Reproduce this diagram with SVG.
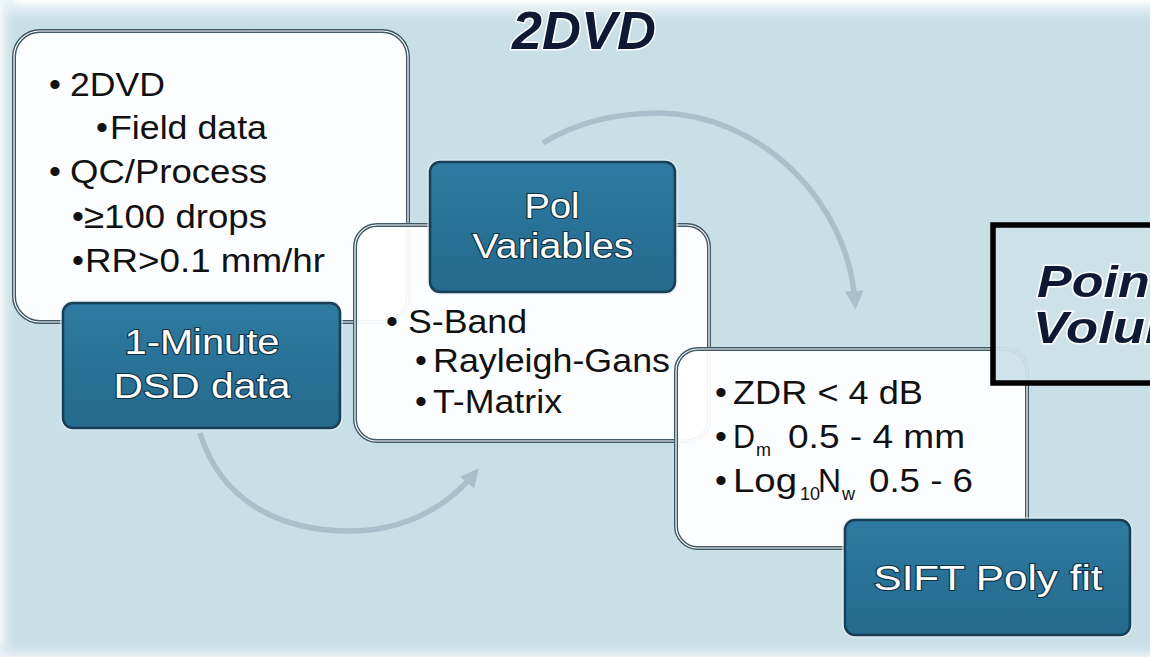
<svg xmlns="http://www.w3.org/2000/svg" width="1150" height="657" viewBox="0 0 1150 657">
<defs>
<linearGradient id="topg" x1="0" y1="0" x2="0" y2="1"><stop offset="0" stop-color="#ffffff"/><stop offset="1" stop-color="#c9dfe8" stop-opacity="0"/></linearGradient>
<linearGradient id="leftg" x1="0" y1="0" x2="1" y2="0"><stop offset="0" stop-color="#f4f8fa"/><stop offset="1" stop-color="#c9dfe8" stop-opacity="0"/></linearGradient>
<linearGradient id="botg" x1="0" y1="0" x2="0" y2="1"><stop offset="0" stop-color="#c9dfe8" stop-opacity="0"/><stop offset="1" stop-color="#eaf2f6"/></linearGradient>
<linearGradient id="blue" x1="0" y1="0" x2="0" y2="1"><stop offset="0" stop-color="#2e7aa0"/><stop offset="1" stop-color="#246a8d"/></linearGradient>
<marker id="ah" viewBox="0 0 10 10" refX="6" refY="5" markerWidth="3.4" markerHeight="3.4" orient="auto" markerUnits="strokeWidth">
<path d="M0,0 L10,5 L0,10 z" fill="#a9bfcb"/>
</marker>
</defs>
<style>
.wbox{fill:#ffffff;fill-opacity:0.94;stroke:#3f5866;stroke-width:4}
.wline{fill:none;stroke:#ffffff;stroke-width:1.2}
.bbox{fill:url(#blue);stroke:#173f55;stroke-width:2.5}
.bedge{fill:none;stroke:#e6f0f4;stroke-width:1.2}
.t{font-family:"Liberation Sans",Arial,sans-serif;font-size:34px;fill:#111111}
.sub{font-family:"Liberation Sans",Arial,sans-serif;font-size:18px;fill:#111111}
.bt{font-family:"Liberation Sans",Arial,sans-serif;font-size:35px;fill:#ffffff;stroke:#123246;stroke-width:2.2;paint-order:stroke;text-anchor:middle}
.arc{fill:none;stroke:#a9bfcb;stroke-width:5.5;marker-end:url(#ah)}
.title{font-family:"Liberation Sans",Arial,sans-serif;font-weight:bold;font-style:italic;fill:#0e1a33;stroke:#ffffff;stroke-width:3;paint-order:stroke}
</style>
<rect x="0" y="0" width="1150" height="657" fill="#c9dfe8"/>
<rect x="0" y="0" width="1150" height="26" fill="url(#topg)"/>
<rect x="0" y="0" width="18" height="657" fill="url(#leftg)"/>
<rect x="0" y="640" width="1150" height="17" fill="url(#botg)"/>

<text class="title" x="512" y="49" font-size="53" textLength="144" lengthAdjust="spacingAndGlyphs">2DVD</text>

<g id="connectors">
<path class="arc" d="M200,433 C222,505 285,531 350,531 C405,531 448,506 474,474"/>
<path class="arc" d="M543,143 C580,120 620,113 660,113 C760,115 848,200 855,302"/>
</g>

<g id="box1">
<rect class="wbox" x="14" y="31" width="394" height="291" rx="26"/>
<rect class="wline" x="14" y="31" width="394" height="291" rx="26"/>
<text class="t" x="49" y="96">•</text>
<text class="t" x="70" y="96" textLength="95" lengthAdjust="spacingAndGlyphs">2DVD</text>
<text class="t" x="96" y="139">•</text>
<text class="t" x="110" y="139" textLength="157" lengthAdjust="spacingAndGlyphs">Field data</text>
<text class="t" x="49" y="183">•</text>
<text class="t" x="70" y="183" textLength="197" lengthAdjust="spacingAndGlyphs">QC/Process</text>
<text class="t" x="72" y="228">•</text>
<text class="t" x="84" y="228" textLength="183" lengthAdjust="spacingAndGlyphs">≥100 drops</text>
<text class="t" x="72" y="272">•</text>
<text class="t" x="85" y="272" textLength="240" lengthAdjust="spacingAndGlyphs">RR&gt;0.1 mm/hr</text>
</g>

<g id="dsd">
<rect class="bedge" x="61" y="301" width="281" height="129" rx="12"/>
<rect class="bbox" x="63" y="303" width="277" height="125" rx="10"/>
<text class="bt" x="202" y="354" textLength="155" lengthAdjust="spacingAndGlyphs">1-Minute</text>
<text class="bt" x="202" y="398" textLength="177" lengthAdjust="spacingAndGlyphs">DSD data</text>
</g>

<g id="box2">
<rect class="wbox" x="355" y="225" width="354" height="216" rx="22"/>
<rect class="wline" x="355" y="225" width="354" height="216" rx="22"/>
<text class="t" x="386" y="333">•</text>
<text class="t" x="408" y="333" textLength="119" lengthAdjust="spacingAndGlyphs">S-Band</text>
<text class="t" x="415" y="372">•</text>
<text class="t" x="433" y="372" textLength="237" lengthAdjust="spacingAndGlyphs">Rayleigh-Gans</text>
<text class="t" x="415" y="413">•</text>
<text class="t" x="433" y="413" textLength="129" lengthAdjust="spacingAndGlyphs">T-Matrix</text>
</g>

<g id="pol">
<rect class="bedge" x="428" y="160" width="249" height="134" rx="12"/>
<rect class="bbox" x="430" y="162" width="245" height="130" rx="10"/>
<text class="bt" x="552" y="218" textLength="55" lengthAdjust="spacingAndGlyphs">Pol</text>
<text class="bt" x="553" y="258" textLength="161" lengthAdjust="spacingAndGlyphs">Variables</text>
</g>

<g id="box3">
<rect class="wbox" x="676" y="349" width="351" height="199" rx="22"/>
<rect class="wline" x="676" y="349" width="351" height="199" rx="22"/>
<text class="t" x="715" y="404">•</text>
<text class="t" x="733" y="404" textLength="190" lengthAdjust="spacingAndGlyphs">ZDR &lt; 4 dB</text>
<text class="t" x="715" y="448">•</text>
<text class="t" x="733" y="448" textLength="22" lengthAdjust="spacingAndGlyphs">D</text>
<text class="sub" x="756" y="456">m</text>
<text class="t" x="788" y="448" textLength="177" lengthAdjust="spacingAndGlyphs">0.5 - 4 mm</text>
<text class="t" x="715" y="492">•</text>
<text class="t" x="733" y="492" textLength="64" lengthAdjust="spacingAndGlyphs">Log</text>
<text class="sub" x="800" y="500" font-size="16">10</text>
<text class="t" x="818" y="492" textLength="23" lengthAdjust="spacingAndGlyphs">N</text>
<text class="sub" x="842" y="500" font-size="16">w</text>
<text class="t" x="869" y="492" textLength="104" lengthAdjust="spacingAndGlyphs">0.5 - 6</text>
</g>

<g id="sift">
<rect class="bedge" x="843" y="518" width="289" height="119" rx="12"/>
<rect class="bbox" x="845" y="520" width="285" height="115" rx="10"/>
<text class="bt" x="988" y="590" textLength="229" lengthAdjust="spacingAndGlyphs">SIFT Poly fit</text>
</g>

<g id="pointvolume">
<rect x="993" y="225" width="200" height="158" fill="#cde0e9" fill-opacity="0.95" stroke="#000000" stroke-width="5.5"/>
<text class="title" x="1037" y="297" font-size="45" stroke-width="2" textLength="130" lengthAdjust="spacingAndGlyphs">Point</text>
<text class="title" x="1033" y="343" font-size="45" stroke-width="2" textLength="188" lengthAdjust="spacingAndGlyphs">Volume</text>
</g>
</svg>
